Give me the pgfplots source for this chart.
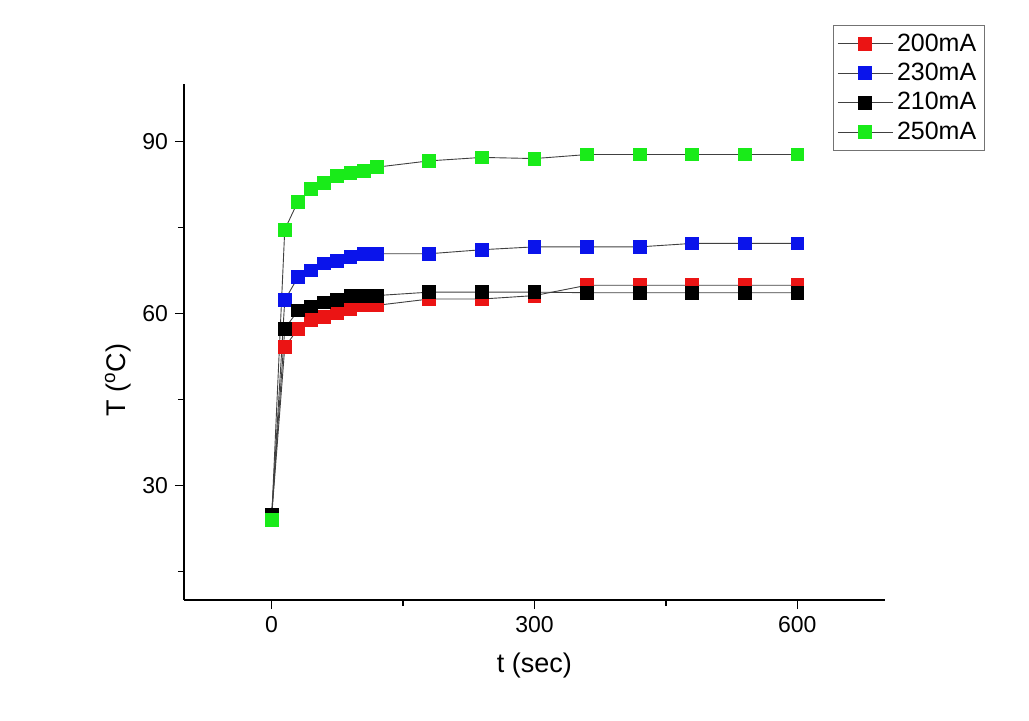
\documentclass[border=0pt]{standalone}
\usepackage{fontspec}
\setmainfont{Liberation Sans}
\usepackage{pgfplots}
\pgfplotsset{compat=1.18}

\definecolor{ored}{RGB}{235,20,20}
\definecolor{oblue}{RGB}{10,20,235}
\definecolor{ogreen}{RGB}{25,235,25}

\pgfplotsset{
  tplot/.style={line width=0.45pt, black!75, mark=square*, mark size=3.2pt,
    mark options={draw=#1, fill=#1, solid}},
}

\begin{document}
\begin{tikzpicture}
  \useasboundingbox (-92pt,-60pt) rectangle (422.5pt,300pt);
  \begin{axis}[
    scale only axis,
    width=350.5pt, height=258pt,
    xmin=-100, xmax=700,
    ymin=10, ymax=100,
    xtick={0,300,600},
    minor xtick={150,450},
    ytick={30,60,90},
    minor ytick={15,45,75},
    axis x line*=bottom,
    axis y line*=left,
    axis line style={line width=0.8pt, -},
    tick align=outside,
    major tick length=4.5pt,
    minor tick length=3pt,
    every tick/.style={line width=0.8pt, black},
    tick label style={font=\fontsize{11.5}{13}\selectfont},
    /pgf/number format/assume math mode=true,
    xlabel={t (sec)},
    ylabel={T (\textsuperscript{o}C)},
    label style={font=\fontsize{13.5}{15}\selectfont},
    xlabel style={at={(axis description cs:0.5,-0.126)}, anchor=center},
    ylabel style={at={(axis description cs:-0.094,0.426)}, anchor=center},
    legend style={at={(rel axis cs:0.926,1.114)}, anchor=north west,
      draw=black!55, fill=white, font=\fontsize{12.5}{14}\selectfont,
      row sep=0.5pt, inner sep=2pt},
    legend cell align=left,
    legend image code/.code={%
      \draw[mark repeat=2, mark phase=2, #1]
        plot coordinates {(0cm,0cm) (0.48cm,0cm) (0.96cm,0cm)};},
    clip=false,
  ]
    \addplot[tplot=ored] coordinates {
      (0,24.5) (15,54.1) (30,57.3) (45,58.8) (60,59.4) (75,60.1) (90,60.8) (105,61.4) (120,61.4)
      (180,62.5) (240,62.5) (300,63.1) (360,64.9) (420,64.9) (480,64.9) (540,64.9) (600,64.9)};
    \addplot[tplot=oblue] coordinates {
      (0,24.5) (15,62.3) (30,66.3) (45,67.5) (60,68.7) (75,69.2) (90,69.9) (105,70.4) (120,70.4)
      (180,70.4) (240,71.1) (300,71.6) (360,71.6) (420,71.6) (480,72.2) (540,72.2) (600,72.2)};
    \addplot[tplot=black] coordinates {
      (0,24.8) (15,57.3) (30,60.5) (45,61.2) (60,61.9) (75,62.4) (90,63.1) (105,63.1) (120,63.1)
      (180,63.7) (240,63.7) (300,63.7) (360,63.6) (420,63.6) (480,63.6) (540,63.6) (600,63.6)};
    \addplot[tplot=ogreen] coordinates {
      (0,24.0) (15,74.6) (30,79.5) (45,81.7) (60,82.8) (75,83.9) (90,84.5) (105,84.9) (120,85.5)
      (180,86.6) (240,87.2) (300,87.0) (360,87.7) (420,87.7) (480,87.7) (540,87.7) (600,87.7)};
    \legend{200mA, 230mA, 210mA, 250mA}
  \end{axis}
\end{tikzpicture}
\end{document}
